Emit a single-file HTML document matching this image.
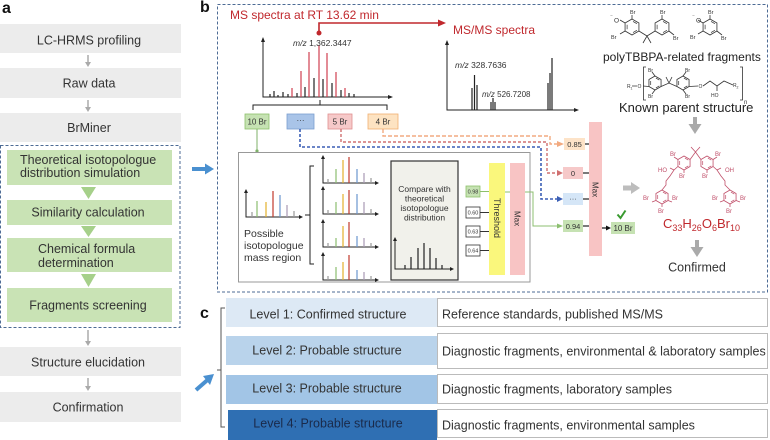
<!DOCTYPE html>
<html><head><meta charset="utf-8"><style>
body{margin:0;background:#fff;}
svg{display:block;font-family:"Liberation Sans",sans-serif;}
</style></head><body>
<svg width="770" height="440" viewBox="0 0 770 440" xmlns="http://www.w3.org/2000/svg">
<defs>
<g id="hx"><polygon points="0,-8 6.93,-4 6.93,4 0,8 -6.93,4 -6.93,-4" fill="none" stroke="currentColor" stroke-width="0.8"/><path d="M1,-5.6 L4.9,-3.3 M4.9,3.3 L1,5.6 M-4.9,2.3 L-4.9,-2.3" stroke="currentColor" stroke-width="0.7" fill="none"/></g>
<g id="hs"><polygon points="0,-7 6.06,-3.5 6.06,3.5 0,7 -6.06,3.5 -6.06,-3.5" fill="none" stroke="currentColor" stroke-width="0.8"/><path d="M0.9,-4.9 L4.3,-2.9 M4.3,2.9 L0.9,4.9 M-4.3,2 L-4.3,-2" stroke="currentColor" stroke-width="0.7" fill="none"/></g>
</defs>

<!-- ===== Panel a ===== -->
<text x="2" y="13" font-size="16" font-weight="bold" fill="#111">a</text>
<g fill="#ececec">
<rect x="0" y="24" width="181" height="29"/>
<rect x="0" y="68" width="181" height="30"/>
<rect x="0" y="113" width="181" height="29"/>
<rect x="0" y="347" width="181" height="29"/>
<rect x="0" y="392" width="181" height="30"/>
</g>
<g fill="#c9e3b5">
<rect x="7" y="150" width="165" height="35"/>
<rect x="7" y="200" width="165" height="25"/>
<rect x="7" y="238" width="165" height="34"/>
<rect x="7" y="288" width="165" height="34"/>
</g>
<rect x="0.5" y="145.5" width="179.5" height="182" fill="none" stroke="#4d6b95" stroke-width="1" stroke-dasharray="3,2"/>
<g font-size="12.5" fill="#333">
<text x="89" y="44.5" text-anchor="middle">LC-HRMS profiling</text>
<text x="89" y="87.5" text-anchor="middle">Raw data</text>
<text x="89" y="132" text-anchor="middle">BrMiner</text>
<text x="20" y="164">Theoretical isotopologue</text>
<text x="20" y="177">distribution simulation</text>
<text x="88" y="216.5" text-anchor="middle">Similarity calculation</text>
<text x="38" y="253">Chemical formula</text>
<text x="38" y="267">determination</text>
<text x="88" y="309.5" text-anchor="middle">Fragments screening</text>
<text x="88" y="366.5" text-anchor="middle">Structure elucidation</text>
<text x="88" y="411.5" text-anchor="middle">Confirmation</text>
</g>
<g stroke="#aaa" stroke-width="1.5">
<line x1="88" y1="55" x2="88" y2="63"/>
<line x1="88" y1="100" x2="88" y2="108"/>
<line x1="88" y1="330" x2="88" y2="342"/>
<line x1="88" y1="378" x2="88" y2="387"/>
</g>
<g fill="#aaa">
<polygon points="85,62 91,62 88,67"/>
<polygon points="85,107 91,107 88,112"/>
<polygon points="85,341 91,341 88,346"/>
<polygon points="85,386 91,386 88,391"/>
</g>
<g fill="#a6d08a">
<polygon points="81,187 96,187 88.5,199"/>
<polygon points="81,226 96,226 88.5,237"/>
<polygon points="81,274 96,274 88.5,287"/>
</g>
<!-- arrow a -> b -->
<line x1="192" y1="169" x2="206" y2="169" stroke="#4a90d0" stroke-width="4"/>
<polygon points="205,163.5 214,169 205,174.5" fill="#4a90d0"/>

<!-- ===== Panel b ===== -->
<text x="200" y="12" font-size="16" font-weight="bold" fill="#111">b</text>
<rect x="217.5" y="4.5" width="550" height="287.5" fill="none" stroke="#4d6b95" stroke-width="1" stroke-dasharray="3,2"/>

<text x="230" y="19" font-size="12" fill="#c0282d">MS spectra at RT 13.62 min</text>
<text x="453" y="34" font-size="12" fill="#c0282d">MS/MS spectra</text>
<path d="M319,33 V23 H439" fill="none" stroke="#c0282d" stroke-width="1.6"/>
<polygon points="438,19.5 446,23 438,26.5" fill="#c0282d"/>
<circle cx="319" cy="33" r="2.5" fill="#c0282d"/>

<!-- MS spectrum -->
<path d="M263,40 V97 H390" fill="none" stroke="#222" stroke-width="1"/>
<polygon points="261,42 263,37 265,42" fill="#222"/>
<polygon points="388,95 393,97 388,99" fill="#222"/>
<g stroke-width="1.2">
<line x1="270" y1="97" x2="270" y2="94" stroke="#222"/>
<line x1="274" y1="97" x2="274" y2="91" stroke="#222"/>
<line x1="278" y1="97" x2="278" y2="95" stroke="#222"/>
<line x1="283" y1="97" x2="283" y2="92" stroke="#222"/>
<line x1="288" y1="97" x2="288" y2="94" stroke="#222"/>
<line x1="292" y1="97" x2="292" y2="88" stroke="#d04050"/>
<line x1="297" y1="97" x2="297" y2="93" stroke="#222"/>
<line x1="301" y1="97" x2="301" y2="71" stroke="#d04050"/>
<line x1="305" y1="97" x2="305" y2="87" stroke="#222"/>
<line x1="309" y1="97" x2="309" y2="52" stroke="#d04050"/>
<line x1="314" y1="97" x2="314" y2="78" stroke="#222"/>
<line x1="319" y1="97" x2="319" y2="45" stroke="#d04050"/>
<line x1="323" y1="97" x2="323" y2="79" stroke="#222"/>
<line x1="327" y1="97" x2="327" y2="53" stroke="#d04050"/>
<line x1="332" y1="97" x2="332" y2="83" stroke="#222"/>
<line x1="336" y1="97" x2="336" y2="72" stroke="#d04050"/>
<line x1="341" y1="97" x2="341" y2="90" stroke="#222"/>
<line x1="345" y1="97" x2="345" y2="88" stroke="#d04050"/>
<line x1="349" y1="97" x2="349" y2="93" stroke="#222"/>
<line x1="354" y1="97" x2="354" y2="94" stroke="#222"/>
</g>
<text x="293" y="46" font-size="8.5" fill="#333"><tspan font-style="italic">m/z</tspan> 1,362.3447</text>
<path d="M253,110 V105 H387 V110 M320,105 V100" fill="none" stroke="#222" stroke-width="1"/>

<!-- Br boxes -->
<rect x="245" y="114" width="24" height="15" fill="#c6e2b3" stroke="#8dc06a" stroke-width="0.8"/>
<rect x="287" y="114" width="27" height="15" fill="#a9c4e8" stroke="#7a9fd0" stroke-width="0.8"/>
<rect x="328" y="114" width="24" height="15" fill="#f6c9c9" stroke="#e09090" stroke-width="0.8"/>
<rect x="368" y="114" width="30" height="15" fill="#fde3c2" stroke="#f0b070" stroke-width="0.8"/>
<g font-size="8" fill="#333" text-anchor="middle">
<text x="257" y="124.5">10 Br</text>
<text x="300.5" y="123">···</text>
<text x="340" y="124.5">5 Br</text>
<text x="383" y="124.5">4 Br</text>
</g>

<!-- connectors -->
<line x1="257" y1="129" x2="257" y2="151" stroke="#7fb26a" stroke-width="1"/>
<circle cx="257" cy="151" r="1.6" fill="#7fb26a"/>
<path d="M383,129 V136 H550 V144 H558" fill="none" stroke="#f2aa80" stroke-width="1.4" stroke-dasharray="4,2"/>
<polygon points="557,141 564,144 557,147" fill="#f2aa80"/>
<path d="M341,129 V142 H547 V173 H558" fill="none" stroke="#d07070" stroke-width="1.4" stroke-dasharray="3,2"/>
<polygon points="557,170 563,173 557,176" fill="#d07070"/>
<path d="M300,129 V147 H541 V199 H558" fill="none" stroke="#3b5fb5" stroke-width="1.6" stroke-dasharray="3,2"/>
<polygon points="557,196 563,199 557,202" fill="#3b5fb5"/>

<!-- value boxes -->
<rect x="564" y="138" width="21" height="12" fill="#fde3c8"/>
<rect x="563" y="167" width="20" height="12" fill="#f6c9c9"/>
<rect x="563" y="193" width="20" height="12" fill="#d5e6f7"/>
<rect x="563" y="220" width="20" height="12" fill="#c6e2b3"/>
<g font-size="7.5" fill="#333" text-anchor="middle">
<text x="574.5" y="147">0.85</text>
<text x="573" y="176">0</text>
<text x="573" y="201">···</text>
<text x="573" y="229">0.94</text>
</g>
<g stroke="#222" stroke-width="1.2">
<line x1="585" y1="144" x2="589" y2="144"/>
<line x1="583" y1="173" x2="589" y2="173"/>
<line x1="583" y1="199" x2="589" y2="199"/>
<line x1="583" y1="226" x2="589" y2="226"/>
</g>
<rect x="589" y="122" width="13" height="134" fill="#f8c4c4"/>
<text transform="translate(592.5,182) rotate(90)" font-size="8" fill="#333">Max</text>
<line x1="602" y1="228" x2="607" y2="228" stroke="#111" stroke-width="1.2"/>
<polygon points="606,225.5 611,228 606,230.5" fill="#111"/>
<rect x="611" y="222" width="24" height="12" fill="#c6e2b3"/>
<text x="623" y="231" font-size="8" fill="#333" text-anchor="middle">10 Br</text>
<path d="M617.5,214.5 L620.5,218 L625.5,210.5" fill="none" stroke="#3a9a30" stroke-width="2"/>

<!-- inner box -->
<rect x="238.5" y="152.5" width="291.5" height="129.5" fill="none" stroke="#999" stroke-width="1"/>
<path d="M246,192 V217 H300" fill="none" stroke="#222" stroke-width="1"/>
<polygon points="244,193 246,189 248,193" fill="#222"/>
<polygon points="299,215 303,217 299,219" fill="#222"/>
<g stroke-width="1.2">
<line x1="252" y1="217" x2="252" y2="212" stroke="#999"/>
<line x1="257" y1="217" x2="257" y2="201" stroke="#8cbf70"/>
<line x1="266" y1="217" x2="266" y2="202" stroke="#e3b12c"/>
<line x1="273" y1="217" x2="273" y2="191" stroke="#c0392b"/>
<line x1="280" y1="217" x2="280" y2="195" stroke="#6b97cf"/>
<line x1="287" y1="217" x2="287" y2="205" stroke="#a89ab5"/>
<line x1="294" y1="217" x2="294" y2="211" stroke="#999"/>
</g>
<g font-size="10.5" fill="#333">
<text x="244" y="237">Possible</text>
<text x="244" y="249">isotopologue</text>
<text x="244" y="261">mass region</text>
</g>
<path d="M314,166 H310 V264 H314 M310,215 H305" fill="none" stroke="#222" stroke-width="1"/>

<!-- four mini spectra -->
<g fill="none" stroke="#222" stroke-width="1">
<path d="M323,157 V183 H376"/>
<path d="M323,188 V214 H376"/>
<path d="M323,221 V247 H376"/>
<path d="M323,254 V280 H376"/>
</g>
<g fill="#222">
<polygon points="321,159 323,155 325,159"/><polygon points="375,181 379,183 375,185"/>
<polygon points="321,190 323,186 325,190"/><polygon points="375,212 379,214 375,216"/>
<polygon points="321,223 323,219 325,223"/><polygon points="375,245 379,247 375,249"/>
<polygon points="321,256 323,252 325,256"/><polygon points="375,278 379,280 375,282"/>
</g>
<g stroke-width="1.2">
<line x1="328" y1="183" x2="328" y2="179" stroke="#999"/>
<line x1="336" y1="183" x2="336" y2="169" stroke="#8cbf70"/>
<line x1="343" y1="183" x2="343" y2="160" stroke="#e3b12c"/>
<line x1="349" y1="183" x2="349" y2="157" stroke="#c0392b"/>
<line x1="357" y1="183" x2="357" y2="169" stroke="#6b97cf"/>
<line x1="364" y1="183" x2="364" y2="173" stroke="#a89ab5"/>
<line x1="371" y1="183" x2="371" y2="178" stroke="#999"/>

<line x1="328" y1="214" x2="328" y2="210" stroke="#999"/>
<line x1="336" y1="214" x2="336" y2="202" stroke="#8cbf70"/>
<line x1="343" y1="214" x2="343" y2="194" stroke="#e3b12c"/>
<line x1="349" y1="214" x2="349" y2="190" stroke="#c0392b"/>
<line x1="357" y1="214" x2="357" y2="194" stroke="#6b97cf"/>
<line x1="364" y1="214" x2="364" y2="202" stroke="#a89ab5"/>
<line x1="371" y1="214" x2="371" y2="209" stroke="#999"/>

<line x1="328" y1="247" x2="328" y2="243" stroke="#999"/>
<line x1="336" y1="247" x2="336" y2="238" stroke="#8cbf70"/>
<line x1="343" y1="247" x2="343" y2="226" stroke="#e3b12c"/>
<line x1="349" y1="247" x2="349" y2="222" stroke="#c0392b"/>
<line x1="357" y1="247" x2="357" y2="236" stroke="#6b97cf"/>
<line x1="364" y1="247" x2="364" y2="238" stroke="#a89ab5"/>
<line x1="371" y1="247" x2="371" y2="243" stroke="#999"/>

<line x1="328" y1="280" x2="328" y2="276" stroke="#999"/>
<line x1="336" y1="280" x2="336" y2="267" stroke="#8cbf70"/>
<line x1="343" y1="280" x2="343" y2="262" stroke="#e3b12c"/>
<line x1="349" y1="280" x2="349" y2="255" stroke="#c0392b"/>
<line x1="357" y1="280" x2="357" y2="270" stroke="#6b97cf"/>
<line x1="364" y1="280" x2="364" y2="272" stroke="#a89ab5"/>
<line x1="371" y1="280" x2="371" y2="276" stroke="#999"/>
</g>

<!-- compare box -->
<rect x="391" y="161" width="67" height="119" fill="#f1f1eb" stroke="#333" stroke-width="1.2"/>
<g font-size="8.5" fill="#333" text-anchor="middle">
<text x="424.5" y="192">Compare with</text>
<text x="424.5" y="201.5">theoretical</text>
<text x="424.5" y="211">isotopologue</text>
<text x="424.5" y="220.5">distribution</text>
</g>
<path d="M395,240 V269 H451" fill="none" stroke="#222" stroke-width="1"/>
<polygon points="393,241 395,237 397,241" fill="#222"/>
<polygon points="450,267 454,269 450,271" fill="#222"/>
<g stroke="#222" stroke-width="1.2">
<line x1="405" y1="269" x2="405" y2="265"/>
<line x1="411" y1="269" x2="411" y2="257"/>
<line x1="418" y1="269" x2="418" y2="248"/>
<line x1="424" y1="269" x2="424" y2="243"/>
<line x1="430" y1="269" x2="430" y2="248"/>
<line x1="436" y1="269" x2="436" y2="258"/>
<line x1="442" y1="269" x2="442" y2="265"/>
</g>

<!-- score boxes -->
<rect x="466" y="186" width="14" height="11" fill="#c6e2b3" stroke="#8dc06a" stroke-width="0.8"/>
<rect x="466" y="207" width="14" height="11" fill="#fff" stroke="#333" stroke-width="0.8"/>
<rect x="466" y="226" width="14" height="11" fill="#fff" stroke="#333" stroke-width="0.8"/>
<rect x="466" y="245" width="14" height="11" fill="#fff" stroke="#333" stroke-width="0.8"/>
<g font-size="5.5" fill="#333" text-anchor="middle">
<text x="473" y="193.5">0.98</text>
<text x="473" y="214.5">0.60</text>
<text x="473" y="233.5">0.63</text>
<text x="473" y="252.5">0.64</text>
</g>
<g stroke="#333" stroke-width="1">
<line x1="480" y1="191.5" x2="489" y2="191.5" stroke="#8dc06a"/>
<line x1="480" y1="212.5" x2="489" y2="212.5"/>
<line x1="480" y1="231.5" x2="489" y2="231.5"/>
<line x1="480" y1="250.5" x2="489" y2="250.5"/>
<line x1="505" y1="192" x2="510" y2="192" stroke="#8dc06a"/>
</g>
<rect x="489" y="163" width="16" height="112" fill="#faf77c"/>
<text transform="translate(494,198) rotate(90)" font-size="9" fill="#333">Threshold</text>
<rect x="510" y="163" width="15" height="112" fill="#f8c4c4"/>
<text transform="translate(514.5,211) rotate(90)" font-size="8" fill="#333">Max</text>
<path d="M525,192 H533 V226 H558" fill="none" stroke="#8cbf70" stroke-width="1"/>
<polygon points="557,223.5 563,226 557,228.5" fill="#8cbf70"/>

<!-- MS/MS spectrum -->
<path d="M447,44 V110 H575" fill="none" stroke="#222" stroke-width="1"/>
<polygon points="445,45 447,40 449,45" fill="#222"/>
<polygon points="574,108 579,110 574,112" fill="#222"/>
<g stroke="#222" stroke-width="1.2">
<line x1="472" y1="110" x2="472" y2="88"/>
<line x1="474.5" y1="110" x2="474.5" y2="75"/>
<line x1="477" y1="110" x2="477" y2="85"/>
<line x1="491" y1="110" x2="491" y2="102"/>
<line x1="493" y1="110" x2="493" y2="98"/>
<line x1="495" y1="110" x2="495" y2="102"/>
<line x1="548" y1="110" x2="548" y2="83"/>
<line x1="550" y1="110" x2="550" y2="73"/>
<line x1="552" y1="110" x2="552" y2="58"/>
</g>
<text x="455" y="68" font-size="8.5" fill="#333"><tspan font-style="italic">m/z</tspan> 328.7636</text>
<text x="482" y="97" font-size="8" fill="#333"><tspan font-style="italic">m/z</tspan> 526.7208</text>

<!-- fragments structures -->
<g color="#333" stroke="#333" stroke-width="0.8" fill="none">
<use href="#hx" x="632" y="27"/>
<use href="#hx" x="662" y="27"/>
<use href="#hx" x="710" y="27"/>
<path d="M625.1,23 L620,20 M632,19 L632,15 M625.1,31 L620,34 M638.9,31 L647,36 L655.1,31 M647,36 L643,43 M647,36 L651,43 M662,19 L662,15 M668.9,31 L674,35"/>
<path d="M703.1,23 L698,20 M710,19 L710,15 M703.1,31 L698,34 M716.9,31 L722,35"/>
</g>
<g font-size="5.5" fill="#333">
<text x="610" y="18">⁻</text><text x="614" y="22.5" font-size="6.5">O</text>
<text x="630" y="14">Br</text>
<text x="611" y="39">Br</text>
<text x="660" y="14">Br</text>
<text x="673" y="40">Br</text>
<text x="692" y="18">⁻</text><text x="696" y="22.5" font-size="6.5">O</text>
<text x="708" y="14">Br</text>
<text x="690" y="39">Br</text>
<text x="721" y="40">Br</text>
</g>
<text x="603" y="61" font-size="12" fill="#222">polyTBBPA-related fragments</text>

<!-- parent structure -->
<g color="#333" stroke="#333" stroke-width="0.8" fill="none">
<use href="#hs" x="655" y="83"/>
<use href="#hs" x="683" y="83"/>
<path d="M646,67 H643.5 V100 H646 M740,67 H742.5 V100 H740"/>
<path d="M648.9,86.5 L643,86 M632,86 L637,86 M655,76 L652,72 M655,90 L652,94 M661.1,86.5 L669,83 L676.9,86.5 M669,83 L666,77 M669,83 L672,77 M683,76 L686,72 M683,90 L686,94 M689.1,86.5 L698,86 M703,86 L710,81 L717,86 L724,81 L733,85 M717,86 L717,91"/>
</g>
<g font-size="5" fill="#333">
<text x="627" y="88">R</text><text x="630.5" y="89.5" font-size="3.5">1</text>
<text x="637.5" y="88">O</text>
<text x="648" y="72">Br</text>
<text x="648" y="98">Br</text>
<text x="685" y="72">Br</text>
<text x="685" y="98">Br</text>
<text x="698.5" y="88">O</text>
<text x="711" y="97">HO</text>
<text x="733" y="87">R</text><text x="736.5" y="88.5" font-size="3.5">2</text>
<text x="744" y="104" font-size="6">n</text>
</g>
<text x="619" y="112" font-size="13" fill="#222">Known parent structure</text>
<rect x="693" y="117" width="4" height="8" fill="#aaa"/>
<polygon points="688.5,124 701.5,124 695,134" fill="#aaa"/>

<!-- gray arrow from Max -->
<polygon points="623,185.5 631,185.5 631,182 640,188 631,194 631,190.5 623,190.5" fill="#bdbdbd"/>

<!-- red structure -->
<g color="#c0506a" stroke="#c0506a" stroke-width="0.8" fill="none">
<use href="#hs" x="684" y="163"/>
<use href="#hs" x="707" y="163"/>
<use href="#hs" x="662" y="197"/>
<use href="#hs" x="730" y="197"/>
<path d="M690.1,159.5 L695.5,152 L700.9,159.5 M695.5,152 L691,147 M695.5,152 L700,147 M677.9,159.5 L674,157 M684,170 L684,173 M707,170 L707,173 M713.1,159.5 L717,157 M677.9,166.5 L674,170 L670,176 L666,181 L666,185 L662,190 M674,170 L670,168 M713.1,166.5 L717,170 L721,176 L725,181 L725,185 L730,190 M717,170 L721,168 M655.9,200.5 L652,202 M668.1,200.5 L672,202 M662,204 L662,207 M723.9,200.5 L720,202 M736.1,200.5 L740,202 M730,204 L730,207"/>
</g>
<g font-size="6" fill="#c0506a">
<text x="670" y="156">Br</text>
<text x="679" y="178">Br</text>
<text x="715" y="156">Br</text>
<text x="702" y="178">Br</text>
<text x="658" y="172">HO</text>
<text x="725" y="172">OH</text>
<text x="643" y="200">Br</text>
<text x="672" y="200">Br</text>
<text x="658" y="213">Br</text>
<text x="712" y="200">Br</text>
<text x="740" y="200">Br</text>
<text x="726" y="213">Br</text>
</g>
<text x="663" y="228" font-size="13" fill="#c0282d">C<tspan font-size="9" dy="3">33</tspan><tspan dy="-3">H</tspan><tspan font-size="9" dy="3">26</tspan><tspan dy="-3">O</tspan><tspan font-size="9" dy="3">6</tspan><tspan dy="-3">Br</tspan><tspan font-size="9" dy="3">10</tspan></text>
<rect x="695" y="240" width="4" height="8" fill="#aaa"/>
<polygon points="690.5,247 703.5,247 697,257" fill="#aaa"/>
<text x="697" y="271.5" font-size="12.5" fill="#333" text-anchor="middle">Confirmed</text>

<!-- ===== Panel c ===== -->
<text x="200" y="318" font-size="16" font-weight="bold" fill="#111">c</text>
<path d="M225,308 H221 V427 H225 M221,370 H217" fill="none" stroke="#555" stroke-width="1"/>
<line x1="196" y1="390" x2="208" y2="379.5" stroke="#4a90d0" stroke-width="4"/>
<polygon points="203,376 214,374 210,385" fill="#4a90d0"/>

<rect x="226" y="298" width="211" height="29" fill="#dde9f5"/>
<rect x="226" y="336" width="211" height="29" fill="#b9d3eb"/>
<rect x="226" y="375" width="211" height="29" fill="#a2c5e6"/>
<rect x="228" y="410" width="209" height="30" fill="#2f6fb3"/>
<g font-size="12.5" text-anchor="middle">
<text x="328" y="318.5" fill="#333">Level 1: Confirmed structure</text>
<text x="327" y="354.5" fill="#333">Level 2: Probable structure</text>
<text x="327" y="392.5" fill="#333">Level 3: Probable structure</text>
<text x="328" y="427.5" fill="#1a2a4a">Level 4: Probable structure</text>
</g>
<g fill="#fff" stroke="#bbb" stroke-width="1">
<rect x="437.5" y="298.5" width="330" height="28"/>
<rect x="437.5" y="333.5" width="330" height="35"/>
<rect x="437.5" y="374.5" width="330" height="29"/>
<rect x="437.5" y="409.5" width="330" height="28"/>
</g>
<g font-size="12.5" fill="#333">
<text x="442" y="318.5">Reference standards, published MS/MS</text>
<text x="442" y="355.5">Diagnostic fragments, environmental &amp; laboratory samples</text>
<text x="442" y="393.5">Diagnostic fragments, laboratory samples</text>
<text x="442" y="429.5">Diagnostic fragments, environmental samples</text>
</g>
</svg>
</body></html>
